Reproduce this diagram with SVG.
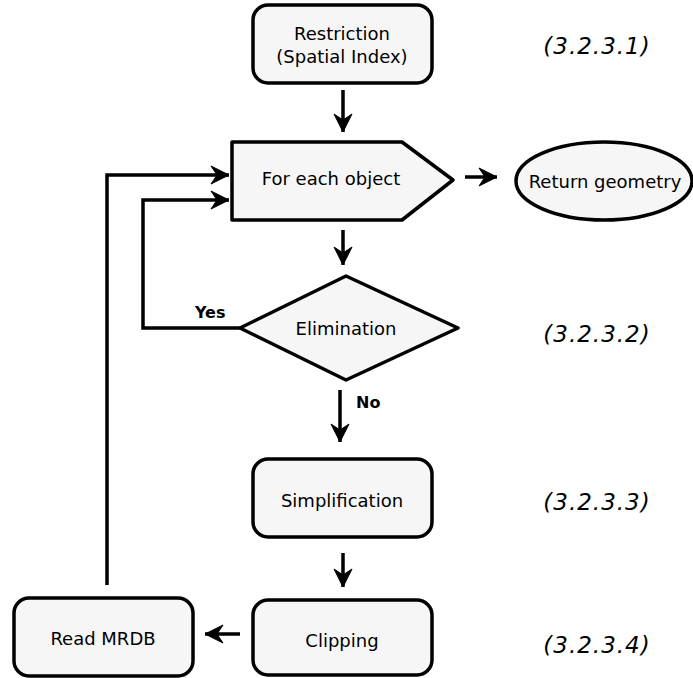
<svg xmlns="http://www.w3.org/2000/svg" width="693" height="678" viewBox="0 0 693 678">
  <style>
    .node { fill: #f6f6f6; stroke: #000; stroke-width: 3.5; stroke-linejoin: round; }
    .lbl { font-family: "DejaVu Sans", Verdana, sans-serif; font-size: 18px; fill: #000; text-anchor: middle; }
    .yn { font-family: "DejaVu Sans", Verdana, sans-serif; font-size: 16px; font-weight: bold; fill: #000; }
    .ref { font-family: "DejaVu Sans", Verdana, sans-serif; font-size: 23px; font-style: italic; letter-spacing: 1px; fill: #000; text-anchor: middle; }
    .conn { fill: none; stroke: #000; stroke-width: 3.5; marker-end: url(#arrow); }
  </style>
  <defs>
    <marker id="arrow" viewBox="-20 -10 21 20" refX="0" refY="0" markerWidth="21" markerHeight="20" markerUnits="userSpaceOnUse" orient="auto">
      <path d="M0,0 L-18,-9 L-12,0 L-18,9 Z" fill="#000" stroke="#000" stroke-width="1" stroke-linejoin="miter"/>
    </marker>
  </defs>
  <rect width="693" height="678" fill="#fff"/>

  <!-- connectors -->
  <g id="connectors">
    <path class="conn" d="M343,90 V132"/>
    <path class="conn" d="M465,177 H497"/>
    <path class="conn" d="M343,230 V265"/>
    <path class="conn" d="M240,328 H143 V200 H229"/>
    <path class="conn" d="M107,585 V175 H229"/>
    <path class="conn" d="M340,390 V442"/>
    <path class="conn" d="M343,553 V587"/>
    <path class="conn" d="M240,634 H205"/>
    <text class="yn" x="195" y="318">Yes</text>
    <text class="yn" x="356" y="408">No</text>
  </g>

  <!-- nodes -->
  <g id="restriction">
    <rect class="node" x="253" y="5" width="179" height="78" rx="15"/>
    <text class="lbl" x="342" y="40">Restriction</text>
    <text class="lbl" x="342" y="63">(Spatial Index)</text>
  </g>
  <g id="for-each">
    <path class="node" d="M232,142 H402 L453,180 L402,220 H232 Z"/>
    <text class="lbl" x="331" y="185">For each object</text>
  </g>
  <g id="return-geometry">
    <ellipse class="node" cx="604" cy="181" rx="88" ry="39"/>
    <text class="lbl" x="605" y="188">Return geometry</text>
  </g>
  <g id="elimination">
    <path class="node" d="M346,276 L458,328 L346,380 L240,328 Z"/>
    <text class="lbl" x="346" y="335">Elimination</text>
  </g>
  <g id="simplification">
    <rect class="node" x="253" y="459" width="179" height="78" rx="15"/>
    <text class="lbl" x="342" y="507">Simplification</text>
  </g>
  <g id="clipping">
    <rect class="node" x="253" y="600" width="179" height="75" rx="15"/>
    <text class="lbl" x="342" y="647">Clipping</text>
  </g>
  <g id="read-mrdb">
    <rect class="node" x="14" y="598" width="179" height="78" rx="15"/>
    <text class="lbl" x="103" y="645">Read MRDB</text>
  </g>

  <!-- section references -->
  <g id="refs">
    <text class="ref" x="597" y="54">(3.2.3.1)</text>
    <text class="ref" x="597" y="342">(3.2.3.2)</text>
    <text class="ref" x="597" y="510">(3.2.3.3)</text>
    <text class="ref" x="597" y="653">(3.2.3.4)</text>
  </g>
</svg>
